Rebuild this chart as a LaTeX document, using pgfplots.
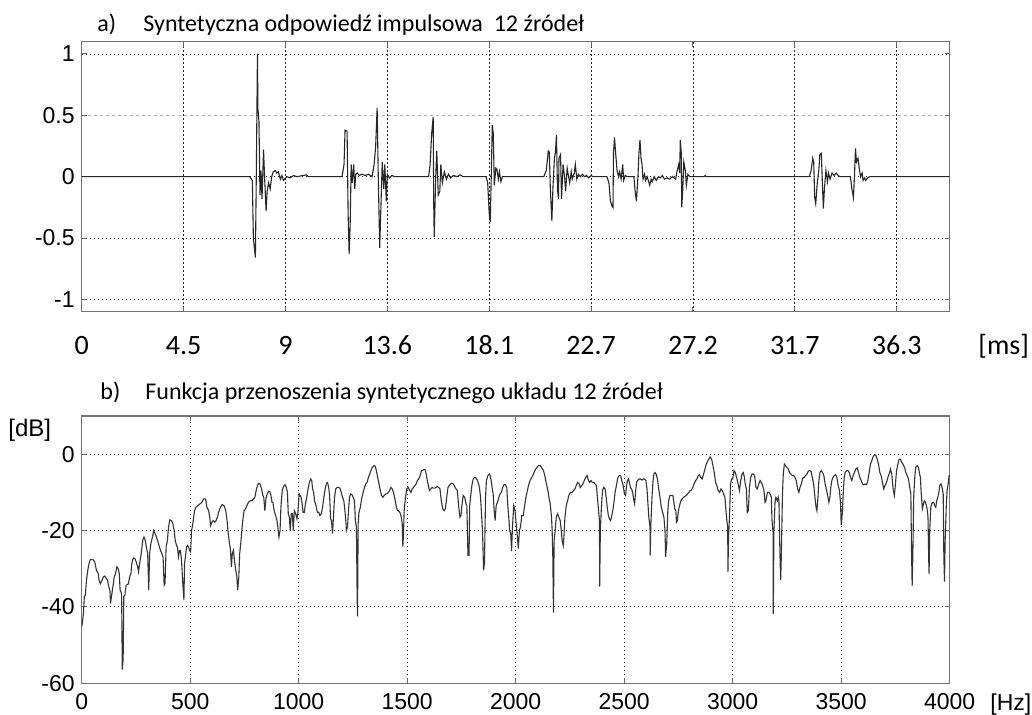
\documentclass[border=0pt]{standalone}
\usepackage{fontspec}
\setmainfont{Liberation Sans}
\newfontfamily\calibri[Numbers=Lining]{Carlito}
\usepackage{pgfplots}
\pgfplotsset{compat=1.18}
\pgfplotsset{
  myaxis/.style={
    scale only axis, width=434pt,
    axis line style={draw=black!55, line width=0.6pt},
    grid=major,
    grid style={black!85, line width=0.45pt, dash pattern=on 0.6pt off 1.4pt},
    major tick length=2.5pt,
    tick style={black!60, line width=0.5pt},
    tick align=inside,
    ticklabel style={font=\fontsize{11.5}{13}\selectfont},
    /pgf/number format/assume math mode=true,
  }
}
\begin{document}
\begin{tikzpicture}
\path[use as bounding box] (0pt,0pt) rectangle (516pt,357.5pt);
% ---------------- top panel ----------------
\begin{axis}[myaxis, at={(40.85pt,201.65pt)}, anchor=south west, height=135pt,
  xmin=0, xmax=1704, ymin=-1.1, ymax=1.1,
  xtick={0,200,400,600,800,1000,1200,1400,1600},
  xticklabels={0,4.5,9,13.6,18.1,22.7,27.2,31.7,36.3},
  xticklabel style={font=\calibri\fontsize{14}{16}\selectfont, anchor=base, yshift=-21.4pt},
  ytick={-1,-0.5,0,1}, yticklabels={-1,-0.5,0,1},
  extra y ticks={0.5}, extra y tick labels={0.5},
  extra y tick style={grid style={black!30, line width=0.45pt, dash pattern=on 1.5pt off 1.5pt}},
]
\addplot[black!85, line width=0.55pt] table {
0 0
330 0
335 -0.03
337 -0.5
341 -0.66
343 0.1
345 1.0
346 0.55
348 0.45
350 -0.15
352 0.05
354 -0.18
357 0.22
359 0.0
362 -0.28
364 -0.12
367 -0.05
370 -0.1
373 0.0
376 0.04
380 0.05
383 0.03
386 0.04
390 -0.02
393 0.01
396 -0.03
403 0.0
409 -0.01
416 0.01
422 0
435 0.01
441 0.015
445 0
511 0
515 0.1
517 0.38
521 0.37
523 -0.3
525 -0.63
527 -0.4
529 0.1
531 -0.05
534 0.1
536 -0.1
538 0.02
541 0.03
545 0.01
550 0.02
557 0.01
563 0.02
570 0.0
574 0.1
577 0.24
580 0.56
582 0.05
585 -0.58
587 -0.3
590 0.12
593 -0.1
595 0.1
598 -0.2
600 0.02
604 -0.01
609 0.01
614 0
681 0
684 0.1
687 0.35
690 0.49
691 -0.2
692 -0.49
695 0.0
697 0.21
700 -0.15
703 -0.12
705 0.1
708 -0.05
712 0.04
716 -0.02
720 0.02
724 -0.01
730 0.01
737 0.0
743 0.015
749 0
794 0
797 -0.05
800 -0.3
802 -0.37
804 0.0
806 0.42
808 0.35
810 -0.07
813 0.07
815 0.06
818 -0.02
820 0.04
823 -0.04
826 0
907 0
912 0.05
916 0.21
918 0.2
920 -0.1
923 -0.36
925 -0.1
928 0.15
930 0.2
932 0.34
934 -0.1
936 -0.18
937 0.15
940 0.18
942 -0.18
945 0.1
948 0.0
950 -0.12
953 0.07
955 0.02
958 -0.05
961 0.04
963 -0.02
967 0.03
969 0.1
972 -0.02
975 0.02
979 0.0
983 0.02
987 0.0
991 0.01
995 -0.01
1000 0.01
1004 0
1031 0
1035 -0.05
1038 -0.2
1041 -0.24
1043 -0.25
1044 0.2
1046 0.32
1048 0.2
1051 0.05
1054 0.0
1056 0.04
1059 -0.02
1062 0.1
1064 -0.03
1067 0.01
1071 0
1084 0
1086 -0.1
1089 -0.2
1092 0.0
1094 0.2
1096 0.3
1098 0.15
1100 0.1
1102 -0.02
1105 0.02
1107 -0.03
1110 0.0
1113 -0.04
1115 -0.07
1118 -0.02
1120 -0.04
1124 0.0
1128 -0.03
1132 0.0
1136 -0.01
1140 0.01
1144 -0.02
1149 -0.01
1154 -0.02
1160 0.0
1166 -0.02
1169 0.05
1172 0.1
1174 0.03
1175 0.3
1177 0.2
1178 -0.25
1180 -0.1
1182 0.12
1185 0.05
1187 -0.07
1190 0.02
1194 0
1222 0
1224 0.01
1226 0
1428 0
1432 0.05
1435 0.15
1437 0.12
1439 -0.17
1441 -0.22
1444 -0.05
1447 0.05
1449 0.18
1452 0.19
1454 -0.05
1456 -0.26
1458 -0.1
1461 0.05
1464 -0.04
1466 0.03
1469 -0.02
1473 0.03
1477 0.01
1481 0.03
1485 0.01
1488 0
1509 0
1512 -0.1
1515 -0.17
1517 0.0
1519 0.23
1521 0.12
1524 0.15
1527 0.05
1529 0.0
1532 0.03
1534 -0.03
1537 -0.01
1539 -0.03
1543 -0.01
1547 0
1704 0
};
\end{axis}
% ---------------- bottom panel ----------------
\begin{axis}[myaxis, at={(40.85pt,15.85pt)}, anchor=south west, height=133.65pt,
  xmin=0, xmax=4000, ymin=-60, ymax=10,
  xtick={0,500,1000,1500,2000,2500,3000,3500,4000},
  xticklabels={0,500,1000,1500,2000,2500,3000,3500,4000},
  xticklabel style={yshift=-1.5pt},
  ytick={-60,-40,-20,0}, yticklabels={-60,-40,-20,0},
]
\addplot[black!80, line width=0.55pt] table {
0 -45.1
3 -44.3
8 -41.7
12 -37.3
17 -36.9
22 -33.0
28 -30.4
34 -28.6
40 -27.6
52 -27.6
60 -28.2
68 -30.4
76 -31.2
80 -33.0
86 -33.9
94 -33.0
100 -32.1
106 -31.9
113 -32.5
119 -33.0
125 -34.7
130 -35.6
133 -39.1
137 -37.3
144 -34.7
150 -32.1
156 -31.2
162 -29.5
168 -29.9
173 -31.2
177 -35.6
184 -36.5
187 -56.4
191 -53.8
194 -37.3
199 -36.9
205 -34.3
215 -34.0
221 -32.1
227 -31.2
231 -28.6
238 -27.2
245 -27.3
251 -28.2
258 -29.5
262 -30.8
267 -28.6
272 -26.9
276 -25.2
281 -22.6
287 -21.7
293 -22.6
299 -24.7
304 -26.0
309 -35.6
313 -26.0
319 -23.4
326 -21.7
332 -20.0
338 -20.8
344 -21.7
350 -22.6
356 -23.9
363 -25.2
369 -26.0
375 -26.9
380 -34.3
384 -33.9
389 -24.3
395 -22.6
400 -19.1
406 -17.2
414 -17.4
420 -18.2
426 -20.0
431 -22.6
437 -23.9
441 -24.3
446 -26.9
451 -25.2
455 -25.2
460 -27.8
466 -33.9
471 -38.2
474 -28.6
478 -26.9
483 -24.3
488 -23.9
492 -24.3
497 -25.2
502 -25.6
506 -20.0
511 -18.7
515 -16.9
520 -14.8
526 -13.9
535 -13.5
545 -13.0
554 -12.6
562 -11.7
571 -11.7
577 -13.9
585 -14.8
590 -16.5
594 -18.7
600 -17.8
606 -17.4
613 -17.8
619 -17.4
625 -16.5
631 -15.2
639 -13.9
647 -13.2
656 -13.5
664 -14.8
670 -17.4
674 -20.0
681 -23.4
685 -24.7
690 -29.5
694 -26.0
699 -25.2
704 -27.8
710 -30.4
715 -32.1
719 -35.6
724 -32.1
728 -26.0
733 -23.4
738 -20.0
742 -17.4
748 -14.8
755 -14.3
761 -13.5
767 -12.8
772 -12.3
779 -12.2
785 -12.2
792 -11.7
798 -11.3
804 -9.5
810 -8.2
816 -7.6
822 -7.8
829 -9.1
835 -10.8
839 -11.3
844 -14.8
849 -11.7
855 -10.4
861 -9.7
867 -9.8
872 -10.8
877 -12.6
881 -12.6
887 -14.8
894 -16.1
900 -17.4
904 -19.1
909 -21.7
914 -20.0
918 -13.9
924 -9.5
930 -8.5
937 -8.0
943 -8.7
948 -10.0
952 -15.6
957 -16.5
961 -20.0
966 -15.6
971 -15.6
975 -20.0
980 -14.8
986 -15.6
992 -16.9
997 -14.8
1002 -10.4
1006 -10.8
1011 -11.3
1015 -12.6
1020 -15.2
1026 -15.2
1031 -13.0
1037 -11.3
1043 -9.1
1049 -7.4
1055 -6.5
1060 -6.9
1064 -9.1
1069 -10.0
1073 -12.2
1080 -13.5
1086 -15.2
1092 -15.2
1098 -16.1
1104 -15.6
1110 -13.9
1116 -11.3
1122 -9.1
1128 -7.6
1133 -7.4
1138 -8.7
1142 -10.4
1147 -16.9
1151 -17.4
1156 -20.8
1161 -15.6
1165 -11.3
1171 -9.1
1177 -8.7
1183 -8.7
1190 -8.9
1196 -10.0
1202 -11.3
1208 -12.2
1213 -14.8
1217 -17.4
1220 -20.0
1225 -19.1
1229 -15.2
1234 -11.3
1239 -10.4
1245 -10.6
1251 -11.3
1257 -12.2
1261 -17.4
1266 -19.1
1269 -35.6
1271 -42.5
1274 -18.2
1278 -15.2
1284 -13.9
1291 -11.3
1297 -10.0
1303 -8.7
1309 -7.8
1315 -7.4
1321 -6.1
1327 -5.2
1333 -4.3
1339 -3.5
1346 -3.0
1352 -3.1
1358 -4.3
1364 -6.1
1370 -7.8
1376 -9.5
1382 -10.8
1388 -11.3
1394 -10.8
1401 -10.4
1407 -10.4
1413 -10.0
1419 -9.5
1425 -8.7
1431 -9.1
1437 -10.0
1443 -11.7
1450 -13.9
1456 -14.8
1460 -14.8
1465 -15.2
1469 -15.6
1474 -16.9
1477 -18.2
1480 -24.3
1483 -20.8
1486 -14.8
1492 -11.3
1498 -9.1
1505 -8.7
1511 -9.5
1517 -10.0
1523 -9.1
1529 -8.7
1535 -8.2
1541 -7.8
1547 -6.9
1553 -6.5
1560 -5.6
1566 -4.3
1572 -4.2
1578 -4.0
1584 -4.2
1590 -6.1
1596 -7.8
1602 -9.5
1609 -9.1
1615 -8.7
1621 -8.9
1627 -8.9
1633 -8.7
1639 -8.5
1645 -8.7
1651 -9.1
1657 -12.2
1664 -14.3
1670 -14.8
1676 -14.3
1682 -11.3
1688 -8.7
1694 -8.2
1700 -7.8
1706 -7.6
1713 -7.8
1719 -8.5
1725 -9.1
1731 -9.5
1737 -13.5
1743 -16.5
1748 -16.1
1752 -13.5
1758 -10.8
1765 -11.3
1771 -13.0
1775 -13.5
1780 -26.5
1785 -26.5
1788 -13.5
1792 -11.3
1798 -8.2
1804 -6.5
1810 -6.1
1816 -6.2
1823 -6.8
1829 -7.8
1833 -8.7
1838 -11.3
1842 -15.2
1847 -20.0
1852 -30.4
1856 -28.6
1861 -11.3
1865 -6.9
1872 -5.6
1878 -5.2
1882 -5.6
1887 -6.9
1891 -8.7
1896 -10.4
1901 -14.8
1905 -17.4
1910 -13.5
1916 -12.6
1922 -11.3
1928 -10.4
1934 -10.0
1940 -8.7
1946 -8.0
1953 -8.0
1959 -8.7
1963 -13.0
1968 -16.5
1972 -20.0
1977 -20.8
1981 -25.4
1985 -19.1
1991 -13.5
1997 -14.8
2002 -18.2
2008 -21.7
2012 -24.7
2017 -20.0
2022 -19.1
2028 -16.1
2035 -16.1
2040 -13.9
2046 -11.7
2052 -10.0
2059 -8.2
2066 -6.9
2074 -6.1
2082 -5.2
2089 -4.2
2097 -3.5
2105 -3.0
2113 -3.0
2120 -3.6
2128 -4.3
2134 -5.6
2140 -7.4
2147 -9.1
2153 -11.3
2159 -13.0
2165 -16.5
2168 -20.0
2171 -26.9
2174 -41.5
2177 -22.6
2182 -20.0
2187 -16.5
2193 -15.6
2199 -16.5
2205 -17.4
2210 -20.0
2214 -22.6
2219 -23.9
2222 -21.7
2227 -16.5
2233 -13.5
2239 -12.2
2245 -10.8
2252 -10.0
2259 -10.0
2267 -9.5
2273 -9.1
2279 -8.2
2285 -7.4
2292 -7.8
2298 -8.7
2304 -8.2
2310 -7.8
2316 -6.9
2322 -6.1
2329 -5.6
2335 -6.8
2341 -7.4
2347 -6.9
2353 -7.4
2360 -7.4
2366 -7.8
2372 -8.2
2378 -12.2
2383 -15.6
2386 -17.4
2387 -34.7
2390 -20.0
2395 -13.9
2400 -9.5
2406 -8.7
2412 -9.1
2417 -11.3
2421 -13.5
2427 -16.1
2432 -16.9
2437 -17.4
2441 -16.5
2446 -15.2
2452 -13.0
2458 -10.0
2464 -8.2
2471 -6.1
2477 -5.6
2483 -5.6
2489 -6.9
2495 -8.2
2501 -10.4
2506 -10.8
2511 -8.2
2515 -6.9
2520 -6.5
2525 -7.8
2529 -8.7
2534 -9.1
2539 -10.0
2543 -11.7
2548 -13.0
2553 -9.5
2557 -7.4
2563 -6.8
2569 -6.5
2576 -6.5
2582 -6.8
2588 -6.5
2594 -6.5
2600 -6.9
2605 -9.1
2610 -13.5
2614 -16.9
2619 -19.1
2620 -26.5
2623 -18.2
2628 -11.3
2633 -6.9
2637 -5.2
2642 -4.8
2647 -5.2
2653 -6.5
2659 -9.1
2665 -11.3
2671 -13.9
2677 -15.2
2683 -16.5
2688 -20.0
2691 -26.9
2696 -23.4
2701 -14.8
2705 -12.2
2711 -10.8
2717 -10.8
2724 -10.8
2728 -12.2
2733 -14.3
2738 -14.8
2741 -17.8
2745 -17.4
2750 -14.8
2755 -13.5
2761 -12.2
2767 -11.7
2773 -11.3
2779 -11.1
2785 -10.8
2792 -10.4
2798 -10.0
2804 -9.5
2810 -9.4
2816 -8.7
2822 -7.8
2829 -6.9
2835 -6.5
2841 -5.6
2847 -5.4
2853 -6.1
2859 -6.5
2866 -5.2
2872 -3.9
2878 -2.6
2884 -1.9
2890 -1.3
2896 -0.7
2903 -1.3
2909 -3.0
2915 -4.8
2921 -7.4
2927 -8.2
2933 -9.5
2940 -10.0
2946 -9.1
2952 -9.5
2958 -10.4
2964 -11.3
2969 -14.8
2973 -17.4
2977 -19.1
2978 -30.8
2981 -21.7
2986 -15.2
2990 -7.8
2995 -6.5
3000 -6.5
3006 -4.3
3012 -4.8
3018 -6.1
3025 -7.8
3031 -9.5
3037 -6.9
3043 -5.2
3049 -4.8
3054 -6.1
3058 -7.8
3063 -9.1
3067 -15.2
3072 -14.8
3077 -8.7
3083 -6.1
3089 -5.2
3095 -5.2
3101 -5.6
3107 -8.7
3113 -9.1
3120 -7.8
3126 -6.9
3132 -7.4
3138 -8.2
3144 -9.5
3149 -12.6
3153 -12.2
3160 -10.0
3166 -10.0
3172 -10.4
3178 -11.3
3181 -17.4
3186 -20.4
3187 -41.8
3190 -20.0
3195 -12.6
3199 -11.3
3206 -12.2
3210 -11.3
3213 -12.2
3218 -26.9
3221 -33.0
3224 -26.9
3229 -11.3
3233 -5.2
3238 -2.6
3244 -3.0
3250 -3.5
3256 -3.9
3262 -4.8
3268 -5.2
3275 -5.6
3281 -5.6
3287 -6.1
3293 -6.9
3299 -9.1
3305 -10.0
3310 -8.7
3316 -7.8
3324 -6.1
3330 -6.1
3336 -5.6
3342 -5.2
3348 -4.5
3354 -4.3
3361 -4.5
3367 -6.1
3373 -7.8
3379 -11.3
3384 -13.9
3388 -14.8
3393 -11.3
3397 -6.9
3402 -4.8
3408 -4.3
3414 -4.8
3420 -5.6
3426 -7.8
3433 -9.5
3439 -11.3
3443 -12.6
3448 -11.3
3452 -8.7
3457 -6.9
3462 -6.1
3468 -5.6
3474 -5.4
3480 -6.1
3486 -8.2
3492 -9.5
3497 -13.0
3500 -18.6
3505 -15.6
3510 -9.5
3514 -6.1
3518 -4.8
3525 -4.3
3531 -4.3
3537 -4.8
3543 -6.1
3549 -6.9
3555 -5.6
3561 -4.8
3567 -3.9
3574 -3.6
3580 -4.8
3586 -6.1
3592 -6.9
3598 -7.8
3604 -8.0
3610 -7.8
3617 -8.0
3623 -6.9
3629 -4.8
3635 -2.6
3641 -1.7
3647 -0.7
3653 -0.2
3659 -0.2
3666 -1.3
3672 -2.6
3678 -4.8
3684 -5.6
3690 -7.4
3696 -9.1
3702 -8.2
3709 -7.4
3715 -6.1
3721 -5.2
3727 -3.9
3733 -5.2
3739 -9.1
3745 -10.8
3750 -7.8
3755 -4.3
3761 -2.6
3767 -1.3
3773 -1.3
3779 -2.2
3785 -2.6
3792 -3.5
3798 -4.8
3804 -5.6
3810 -6.5
3816 -8.7
3821 -10.4
3824 -25.2
3827 -34.5
3830 -26.9
3834 -11.3
3839 -6.1
3843 -3.5
3850 -3.0
3856 -3.5
3860 -4.8
3865 -6.1
3869 -10.4
3874 -14.3
3879 -13.0
3883 -12.2
3888 -12.6
3893 -13.5
3897 -14.8
3900 -16.5
3903 -26.9
3905 -31.4
3908 -20.0
3913 -13.9
3917 -13.0
3922 -12.6
3926 -12.6
3931 -13.5
3936 -13.9
3940 -12.2
3945 -11.3
3950 -10.0
3954 -8.2
3960 -7.8
3965 -8.7
3970 -10.4
3973 -26.9
3976 -33.4
3979 -22.6
3984 -13.9
3988 -9.5
3993 -7.8
3997 -5.6
4000 -5.6
};
\end{axis}
% ---------------- titles and unit labels ----------------
\node[anchor=base west, inner sep=0pt, font=\calibri\fontsize{12}{14}\selectfont] at (48.5pt,341.65pt) {a)};
\node[anchor=base west, inner sep=0pt, font=\calibri\fontsize{12}{14}\selectfont] at (71.5pt,341.65pt) {Syntetyczna odpowiedź impulsowa\ \ 12 źródeł};
\node[anchor=base west, inner sep=0pt, font=\calibri\fontsize{14}{16}\selectfont] at (489pt,180.3pt) {[ms]};
\node[anchor=base west, inner sep=0pt, font=\calibri\fontsize{12}{14}\selectfont] at (50pt,157.85pt) {b)};
\node[anchor=base west, inner sep=0pt, font=\calibri\fontsize{12}{14}\selectfont] at (72.5pt,157.85pt) {Funkcja przenoszenia syntetycznego układu 12 źródeł};
\node[anchor=base west, inner sep=0pt, font=\fontsize{12}{14}\selectfont] at (4pt,139pt) {[dB]};
\node[anchor=base west, inner sep=0pt, font=\fontsize{11.5}{13}\selectfont] at (495pt,2pt) {[Hz]};
\end{tikzpicture}
\end{document}
